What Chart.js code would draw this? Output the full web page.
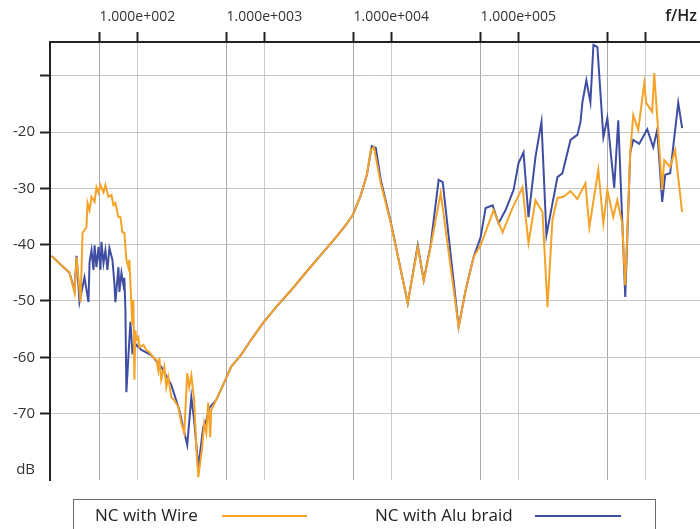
<!DOCTYPE html>
<html>
<head>
<meta charset="utf-8">
<script src="https://cdn.jsdelivr.net/npm/chart.js@4.4.1/dist/chart.umd.min.js"></script>
<style>
  html, body { margin: 0; padding: 0; background: #fff; }
  canvas { display: block; }
</style>
</head>
<body>
<canvas id="chart" width="700" height="529"></canvas>
<script>
// ── Measured data (f in Hz, level in dB) ──────────────────────
const wireFreq = [21.1, 29.2, 32.0, 33.2, 35.7, 37.0, 39.7, 40.5, 42.0, 43.5,
  46.0, 47.6, 49.4, 51.2, 54.1, 56.0, 59.1, 62.5, 64.8, 67.1,
  70.9, 73.5, 76.2, 79.0, 81.9, 84.9, 86.5, 89.6, 91.3, 93.0,
  94.7, 96.4, 98.2, 101.8, 103.7, 111.5, 117.7, 124.3, 133.6, 141,
  146, 149, 154, 163, 169, 175, 185, 195, 210, 222,
  234, 247, 256, 266, 280, 291, 302, 324, 336, 349,
  361, 375, 381, 417, 474, 547, 656, 786, 978, 1237,
  1623, 2130, 2790, 3660, 4390, 4980, 5750, 6420, 6900, 7290,
  8260, 9910, 13480, 16150, 18000, 20400, 24500, 33900, 38500, 44500,
  50500, 63900, 75200, 90000, 108000, 120400, 136600, 155100, 170000, 185800,
  203500, 227000, 258000, 292000, 338000, 363000, 427000, 468000, 503000, 560000,
  602000, 659000, 696000, 762000, 805000, 881000, 983000, 1018000, 1135000, 1177000,
  1243000, 1360000, 1410000, 1572000, 1720000, 1952000];
const wireDb = [-42.0, -45.0, -48.6, -42.2, -50.2, -37.9, -36.9, -32.6, -33.9, -31.5,
  -32.4, -29.8, -30.8, -29.4, -30.7, -29.4, -31.5, -31.2, -33.0, -32.6,
  -35.1, -35.1, -37.8, -37.9, -42.7, -44.0, -42.7, -50.4, -54.3, -49.8,
  -64.0, -55.2, -56.9, -56.4, -58.2, -57.8, -58.7, -59.1, -60.0, -60.5,
  -62.3, -60.1, -64.0, -61.7, -65.3, -63.5, -67.1, -67.6, -68.8, -71.7,
  -73.5, -62.8, -65.3, -63.2, -67.6, -76.0, -81.3, -76.0, -71.7, -73.5,
  -68.1, -74.2, -69.4, -67.6, -64.9, -61.7, -59.6, -56.9, -53.9, -51.1,
  -48.1, -44.9, -41.8, -38.7, -36.5, -34.7, -31.2, -27.6, -23.2, -22.7,
  -29.1, -36.2, -50.4, -40.4, -46.3, -40.4, -30.8, -54.6, -48.1, -42.2,
  -40.1, -33.9, -37.8, -33.5, -29.8, -39.7, -32.1, -34.2, -51.1, -35.6,
  -31.7, -31.5, -30.5, -31.9, -29.1, -36.9, -26.7, -36.2, -30.3, -35.1,
  -32.1, -36.2, -47.2, -23.6, -17.0, -19.6, -11.3, -14.8, -16.4, -9.5,
  -17.3, -30.3, -25.0, -26.2, -23.2, -34.2];

const braidFreq = [21.1, 29.2, 32.0, 33.2, 35.0, 38.3, 41.2, 42.0, 43.5, 45.1,
  46.0, 47.6, 49.4, 51.2, 52.1, 54.1, 56.0, 58.1, 60.2, 63.6,
  65.9, 67.1, 70.9, 72.2, 74.9, 77.6, 79.0, 80.5, 81.9, 84.9,
  88.1, 91.3, 98.2, 107.5, 128.8, 154, 185, 214, 234, 247,
  266, 280, 302, 330, 349, 368, 417, 474, 547, 656,
  786, 978, 1237, 1623, 2130, 2790, 3660, 4390, 4980, 5750,
  6420, 7020, 7550, 8260, 9910, 13480, 16150, 18000, 20400, 23600,
  25400, 33900, 38500, 44500, 50500, 55300, 62800, 69900, 79300, 91800,
  100500, 110000, 120400, 136600, 152300, 166700, 203500, 222700, 258000, 292000,
  309000, 320000, 344000, 370000, 391000, 420000, 468000, 503000, 570000, 613000,
  696000, 762000, 805000, 896000, 1037000, 1156000, 1243000, 1360000, 1436000, 1572000,
  1820000, 1952000];
const braidDb = [-42.0, -45.0, -48.1, -42.0, -50.2, -45.8, -50.2, -43.1, -41.0, -44.5,
  -40.1, -44.0, -40.4, -44.5, -39.5, -43.3, -41.0, -44.5, -40.6, -42.7,
  -46.8, -50.2, -44.0, -48.4, -45.0, -47.2, -45.9, -51.6, -66.2, -60.0,
  -53.7, -59.1, -57.8, -58.7, -59.6, -61.7, -64.9, -69.4, -73.3, -75.6,
  -67.1, -71.2, -79.5, -72.4, -71.2, -69.0, -67.6, -64.9, -61.7, -59.6,
  -56.9, -53.9, -51.1, -48.1, -44.9, -41.8, -38.7, -36.5, -34.7, -31.2,
  -27.6, -22.5, -22.8, -28.5, -36.0, -50.4, -40.1, -46.3, -40.1, -28.5,
  -28.9, -54.6, -48.1, -42.2, -38.7, -33.5, -33.0, -36.2, -33.9, -30.3,
  -25.5, -23.6, -35.1, -24.4, -18.2, -38.3, -28.0, -27.3, -21.4, -20.5,
  -18.2, -14.7, -10.8, -14.7, -4.5, -4.9, -20.9, -17.5, -29.9, -17.9,
  -49.3, -23.6, -21.4, -22.1, -19.5, -22.7, -19.6, -32.4, -27.6, -27.3,
  -14.8, -19.3];

// ── Axes ──────────────────────────────────────────────────────
const xGridAt   = [50, 100, 500, 1000, 5000, 10000, 50000, 100000, 500000, 1000000];
const xLabelAt  = [100, 1000, 10000, 100000];
const yGridAt   = [-80, -70, -60, -50, -40, -30, -20, -10];
const xRange    = [20.5, 2.7e6];
const yRange    = [-81.8, -4];

const ORANGE = '#f5a328';
const BLUE   = '#3f4ea3';
const FONT   = '"Open Sans", "Noto Sans", sans-serif';

// 1.000e+002 style
function sci(v) {
  const [m, e] = v.toExponential(3).split('e');
  const sign = e[0] === '-' ? '-' : '+';
  return `${m}e${sign}${e.replace(/[+-]/, '').padStart(3, '0')}`;
}

const toPoints = (xs, ys) => xs.map((x, i) => ({ x, y: ys[i] }));

// ── Extras: f/Hz unit and the boxed legend ────────────────────
const extras = {
  id: 'extras',
  afterDraw(chart) {
    const c = chart.ctx;
    c.save();
    c.fillStyle = '#222';
    c.font = `600 16px ${FONT}`;
    c.textAlign = 'right';
    c.textBaseline = 'middle';
    c.fillText('f/Hz', 697, 16);

    c.strokeStyle = '#6b6b6b';
    c.lineWidth = 1;
    c.strokeRect(73.5, 499.5, 582, 45);

    const slots = [{ tx: 95, l0: 222, l1: 307 }, { tx: 375, l0: 535, l1: 621 }];
    c.font = `17px ${FONT}`;
    c.textAlign = 'left';
    chart.data.datasets.forEach((ds, i) => {
      const s = slots[i];
      c.fillStyle = '#222';
      c.fillText(ds.label, s.tx, 516);
      c.strokeStyle = ds.borderColor;
      c.lineWidth = 2;
      c.beginPath();
      c.moveTo(s.l0, 516);
      c.lineTo(s.l1, 516);
      c.stroke();
    });
    c.restore();
  },
};

new Chart(document.getElementById('chart').getContext('2d'), {
  type: 'line',
  data: {
    datasets: [
      {
        label: 'NC with Wire',
        data: toPoints(wireFreq, wireDb),
        borderColor: ORANGE,
        borderWidth: 2,
        pointRadius: 0,
        tension: 0,
      },
      {
        label: 'NC with Alu braid',
        data: toPoints(braidFreq, braidDb),
        borderColor: BLUE,
        borderWidth: 2,
        pointRadius: 0,
        tension: 0,
      },
    ],
  },
  options: {
    responsive: false,
    animation: false,
    devicePixelRatio: 1,
    layout: { padding: { top: 0, right: 0, bottom: 49, left: 0 } },
    plugins: { legend: { display: false }, tooltip: { enabled: false } },
    scales: {
      x: {
        type: 'logarithmic',
        position: 'top',
        min: xRange[0],
        max: xRange[1],
        afterBuildTicks: s => { s.ticks = xGridAt.map(v => ({ value: v })); },
        afterFit: s => { s.height = 42; },
        ticks: {
          autoSkip: false,
          maxRotation: 0,
          padding: 7,
          color: '#333',
          font: { family: FONT, size: 14 },
          callback: v => (xLabelAt.includes(v) ? sci(v) : ''),
        },
        grid: {
          color: c => (c.tick && xLabelAt.concat([1000000]).includes(c.tick.value) ? '#cdcdcd' : '#a9a9a9'),
          lineWidth: 1,
          drawTicks: true,
          tickLength: 10,
          tickColor: '#222',
          tickWidth: 2,
        },
        border: { display: true, color: '#222', width: 2 },
      },
      y: {
        min: yRange[0],
        max: yRange[1],
        afterBuildTicks: s => { s.ticks = yGridAt.map(v => ({ value: v })); },
        afterFit: s => { s.width = 50; },
        ticks: {
          padding: 5,
          color: '#333',
          font: { family: FONT, size: 15 },
          callback: v => (v === -80 ? 'dB' : v === -10 ? '' : String(v)),
        },
        grid: {
          color: c => (c.tick && c.tick.value === -80 ? 'rgba(0,0,0,0)' : '#c4c4c4'),
          lineWidth: 1,
          drawTicks: true,
          tickLength: 10,
          tickColor: c => (c.tick && c.tick.value === -80 ? 'rgba(0,0,0,0)' : '#222'),
          tickWidth: 2,
        },
        border: { display: true, color: '#222', width: 2 },
      },
    },
  },
  plugins: [extras],
});
</script>
</body>
</html>
